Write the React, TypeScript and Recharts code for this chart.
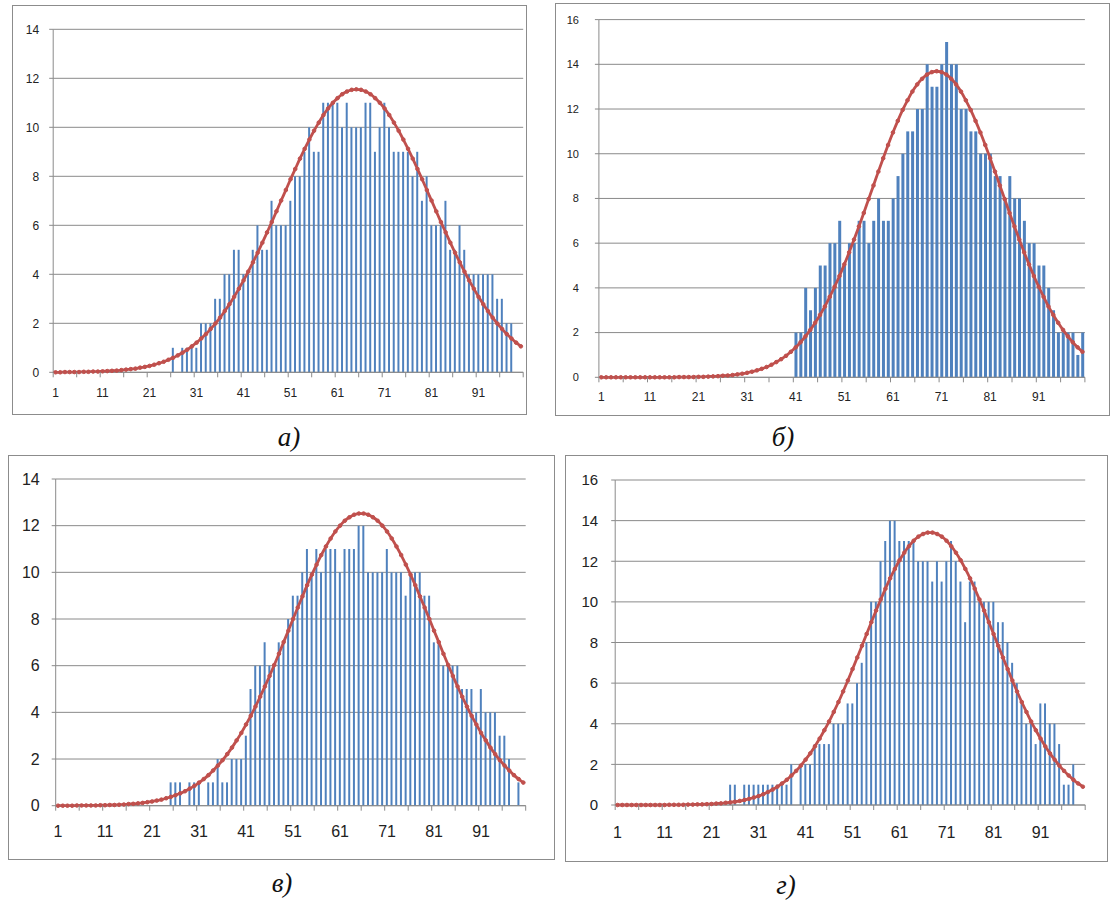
import React from 'react';
import { ComposedChart, Bar, Line, XAxis, YAxis, CartesianGrid } from 'recharts';

// categories 1..100 (bins)
const categories = Array.from({ length: 100 }, (_, i) => i + 1);

const barsA = [
  0, 0, 0, 0, 0, 0, 0, 0, 0, 0,
  0, 0, 0, 0, 0, 0, 0, 0, 0, 0,
  0, 0, 0, 0, 0, 1, 0, 1, 1, 1,
  1, 2, 2, 2, 3, 3, 4, 4, 5, 5,
  4, 4, 5, 6, 5, 5, 7, 6, 6, 6,
  7, 8, 8, 9, 10, 9, 9, 11, 11, 11,
  11, 10, 11, 10, 10, 10, 11, 11, 9, 10,
  11, 10, 9, 9, 9, 9, 8, 9, 7, 8,
  6, 6, 6, 7, 5, 5, 6, 5, 4, 4,
  4, 4, 4, 4, 3, 3, 2, 2, 0, 0,
];

const fitA = [
  0.00, 0.00, 0.01, 0.01, 0.01, 0.01, 0.02, 0.02, 0.03, 0.03,
  0.04, 0.05, 0.06, 0.07, 0.09, 0.11, 0.13, 0.15, 0.19, 0.22,
  0.26, 0.31, 0.37, 0.43, 0.51, 0.59, 0.69, 0.80, 0.92, 1.06,
  1.21, 1.38, 1.56, 1.77, 1.99, 2.23, 2.50, 2.78, 3.08, 3.41,
  3.75, 4.11, 4.49, 4.88, 5.29, 5.71, 6.13, 6.57, 7.01, 7.44,
  7.88, 8.30, 8.72, 9.12, 9.50, 9.86, 10.19, 10.50, 10.77, 11.00,
  11.19, 11.35, 11.46, 11.53, 11.55, 11.53, 11.46, 11.35, 11.19, 11.00,
  10.77, 10.50, 10.19, 9.86, 9.50, 9.12, 8.72, 8.30, 7.88, 7.44,
  7.01, 6.57, 6.13, 5.71, 5.29, 4.88, 4.49, 4.11, 3.75, 3.41,
  3.08, 2.78, 2.50, 2.23, 1.99, 1.77, 1.56, 1.38, 1.21, 1.06,
];

const barsB = [
  0, 0, 0, 0, 0, 0, 0, 0, 0, 0,
  0, 0, 0, 0, 0, 0, 0, 0, 0, 0,
  0, 0, 0, 0, 0, 0, 0, 0, 0, 0,
  0, 0, 0, 0, 0, 0, 0, 0, 0, 0,
  2, 2, 4, 3, 4, 5, 5, 6, 6, 7,
  5, 6, 6, 7, 7, 6, 7, 8, 7, 7,
  8, 9, 10, 11, 11, 12, 12, 14, 13, 13,
  14, 15, 14, 14, 12, 12, 11, 11, 10, 10,
  10, 9, 9, 8, 9, 8, 8, 7, 6, 6,
  5, 5, 4, 3, 2, 2, 2, 2, 1, 2,
];

const fitB = [
  0, 0, 0, 0, 0, 0, 0, 0, 0, 0,
  0, 0, 0, 0, 0, 0, 0.01, 0.01, 0.01, 0.01,
  0.02, 0.02, 0.03, 0.04, 0.05, 0.07, 0.08, 0.10, 0.13, 0.16,
  0.20, 0.25, 0.31, 0.38, 0.46, 0.56, 0.68, 0.81, 0.96, 1.14,
  1.34, 1.57, 1.83, 2.12, 2.44, 2.79, 3.17, 3.60, 4.05, 4.53,
  5.05, 5.59, 6.16, 6.75, 7.35, 7.97, 8.58, 9.20, 9.80, 10.39,
  10.95, 11.47, 11.96, 12.39, 12.78, 13.10, 13.35, 13.54, 13.65, 13.69,
  13.65, 13.54, 13.35, 13.10, 12.78, 12.39, 11.96, 11.47, 10.95, 10.39,
  9.80, 9.20, 8.58, 7.97, 7.35, 6.75, 6.16, 5.59, 5.05, 4.53,
  4.05, 3.60, 3.17, 2.79, 2.44, 2.12, 1.83, 1.57, 1.34, 1.14,
];

const barsC = [
  0, 0, 0, 0, 0, 0, 0, 0, 0, 0,
  0, 0, 0, 0, 0, 0, 0, 0, 0, 0,
  0, 0, 0, 0, 1, 1, 1, 0, 1, 1,
  1, 0, 1, 1, 2, 1, 1, 2, 2, 2,
  3, 5, 6, 6, 7, 6, 6, 7, 7, 8,
  9, 9, 10, 11, 10, 11, 10, 11, 11, 11,
  10, 11, 11, 11, 12, 12, 10, 10, 10, 10,
  11, 10, 10, 10, 9, 10, 10, 10, 9, 9,
  7, 7, 6, 6, 6, 6, 5, 5, 5, 4,
  5, 4, 4, 4, 3, 3, 2, 0, 1, 0,
];

const fitC = [
  0.00, 0.00, 0.00, 0.00, 0.01, 0.01, 0.01, 0.01, 0.01, 0.02,
  0.02, 0.03, 0.03, 0.04, 0.05, 0.07, 0.08, 0.10, 0.12, 0.15,
  0.18, 0.22, 0.26, 0.32, 0.38, 0.45, 0.53, 0.62, 0.73, 0.85,
  0.99, 1.14, 1.31, 1.51, 1.72, 1.95, 2.21, 2.49, 2.80, 3.12,
  3.48, 3.85, 4.25, 4.67, 5.11, 5.56, 6.03, 6.51, 7.01, 7.50,
  8.00, 8.49, 8.97, 9.45, 9.90, 10.33, 10.74, 11.11, 11.45, 11.75,
  12.00, 12.21, 12.36, 12.47, 12.52, 12.52, 12.47, 12.36, 12.21, 12.00,
  11.75, 11.45, 11.11, 10.74, 10.33, 9.90, 9.45, 8.97, 8.49, 8.00,
  7.50, 7.01, 6.51, 6.03, 5.56, 5.11, 4.67, 4.25, 3.85, 3.48,
  3.12, 2.80, 2.49, 2.21, 1.95, 1.72, 1.51, 1.31, 1.14, 0.99,
];

const barsD = [
  0, 0, 0, 0, 0, 0, 0, 0, 0, 0,
  0, 0, 0, 0, 0, 0, 0, 0, 0, 0,
  0, 0, 0, 0, 1, 1, 0, 1, 1, 1,
  1, 1, 1, 1, 1, 1, 1, 2, 0, 2,
  2, 2, 3, 3, 3, 3, 4, 4, 4, 5,
  5, 6, 7, 8, 10, 10, 12, 13, 14, 14,
  13, 13, 13, 13, 12, 12, 12, 11, 12, 11,
  12, 13, 12, 11, 9, 11, 11, 10, 10, 10,
  10, 9, 9, 8, 7, 6, 5, 4, 4, 3,
  5, 5, 4, 4, 3, 1, 1, 2, 0, 0,
];

const fitD = [
  0, 0, 0, 0, 0, 0, 0, 0, 0, 0,
  0.00, 0.01, 0.01, 0.01, 0.01, 0.02, 0.02, 0.03, 0.03, 0.04,
  0.05, 0.07, 0.08, 0.11, 0.13, 0.16, 0.20, 0.25, 0.30, 0.37,
  0.44, 0.53, 0.64, 0.76, 0.90, 1.06, 1.24, 1.45, 1.68, 1.94,
  2.23, 2.54, 2.89, 3.27, 3.68, 4.11, 4.58, 5.07, 5.59, 6.13,
  6.69, 7.26, 7.84, 8.42, 9.00, 9.57, 10.12, 10.65, 11.16, 11.62,
  12.05, 12.42, 12.74, 13.01, 13.21, 13.34, 13.41, 13.41, 13.34, 13.21,
  13.01, 12.74, 12.42, 12.05, 11.62, 11.16, 10.65, 10.12, 9.57, 9.00,
  8.42, 7.84, 7.26, 6.69, 6.13, 5.59, 5.07, 4.58, 4.11, 3.68,
  3.27, 2.89, 2.54, 2.23, 1.94, 1.68, 1.45, 1.24, 1.06, 0.90,
];

const ticks14 = [0, 2, 4, 6, 8, 10, 12, 14];
const ticks16 = [0, 2, 4, 6, 8, 10, 12, 14, 16];

const BAR_BLUE = '#4F81BD';
const FIT_RED = '#C0504D';
const GRID = '#8a8a8a';
const LABEL_FONT = '"Liberation Sans", Arial, sans-serif';

type Rect = { left: number; top: number; right: number; bottom: number };

interface PanelProps {
  box: Rect;
  plot: Rect;
  bars: number[];
  fit: number[];
  yMax: number;
  yTicks: number[];
  yFont: number;
  yGap: number;
  xFont: number;
  xLabelDy: number;
  caption: string;
  captionX: number;
  captionY: number;
}

function Panel(p: PanelProps) {
  const data = categories.map((c, i) => ({ x: c, count: p.bars[i], fit: p.fit[i] }));
  const cx = p.box.left + 1;
  const cy = p.box.top + 1;
  const cw = p.box.right - p.box.left - 2;
  const ch = p.box.bottom - p.box.top - 2;
  const yw = p.plot.left - cx;
  const mr = cx + cw - p.plot.right;
  const mt = p.plot.top - cy;
  const xh = cy + ch - p.plot.bottom;
  const step = (p.plot.right - p.plot.left) / categories.length;

  // tick marks every 5 bins (on the bin borders), labels every 10 bins
  const renderTick = (props: any) => {
    const { x, y, payload, index } = props;
    const i = typeof index === 'number' ? index : payload.index;
    return (
      <g>
        {i === 0 && <line x1={x - step / 2} x2={x - step / 2} y1={y} y2={y + 5} stroke={GRID} />}
        {(i + 1) % 5 === 0 && <line x1={x + step / 2} x2={x + step / 2} y1={y} y2={y + 5} stroke={GRID} />}
        {i % 10 === 0 && (
          <text x={x} y={y + p.xLabelDy} textAnchor="middle" fontSize={p.xFont} fill="#222" fontFamily={LABEL_FONT}>
            {payload.value}
          </text>
        )}
      </g>
    );
  };

  return (
    <>
      <div
        style={{
          position: 'absolute',
          left: p.box.left,
          top: p.box.top,
          width: p.box.right - p.box.left - 2,
          height: p.box.bottom - p.box.top - 2,
          border: '1px solid #8c8c8c',
        }}
      />
      <div style={{ position: 'absolute', left: cx, top: cy }}>
        <ComposedChart width={cw} height={ch} data={data} margin={{ top: mt, right: mr, left: 0, bottom: 0 }} barCategoryGap="24%">
          <CartesianGrid vertical={false} stroke={GRID} />
          <XAxis
            dataKey="x"
            height={xh}
            interval={0}
            tickLine={false}
            tickSize={0}
            tickMargin={0}
            axisLine={{ stroke: GRID }}
            tick={renderTick}
          />
          <YAxis
            width={yw}
            domain={[0, p.yMax]}
            ticks={p.yTicks}
            interval={0}
            tickSize={4}
            tickMargin={p.yGap}
            tickLine={{ stroke: GRID }}
            axisLine={{ stroke: GRID }}
            tick={{ fontSize: p.yFont, fill: '#222', fontFamily: LABEL_FONT }}
          />
          <Bar dataKey="count" fill={BAR_BLUE} isAnimationActive={false} />
          <Line
            dataKey="fit"
            type="monotone"
            stroke={FIT_RED}
            strokeWidth={2.8}
            dot={{ r: 1.8, fill: FIT_RED, stroke: FIT_RED, strokeWidth: 1 }}
            isAnimationActive={false}
          />
        </ComposedChart>
      </div>
      <div
        style={{
          position: 'absolute',
          left: p.captionX - 40,
          top: p.captionY - 18,
          width: 80,
          textAlign: 'center',
          fontFamily: '"Liberation Serif", "Times New Roman", serif',
          fontStyle: 'italic',
          fontSize: 27,
          lineHeight: '36px',
          color: '#111',
        }}
      >
        {p.caption}
      </div>
    </>
  );
}

export default function App() {
  return (
    <div style={{ position: 'absolute', left: 0, top: 0, width: 1111, height: 901, background: '#fff' }}>
      <Panel
        box={{ left: 12, top: 5, right: 527, bottom: 415 }}
        plot={{ left: 53.2, top: 29.3, right: 523.2, bottom: 372.3 }}
        bars={barsA}
        fit={fitA}
        yMax={14}
        yTicks={ticks14}
        yFont={12}
        yGap={10}
        xFont={12}
        xLabelDy={25}
        caption="а)"
        captionX={289}
        captionY={437}
      />
      <Panel
        box={{ left: 555, top: 3, right: 1110, bottom: 416 }}
        plot={{ left: 598.9, top: 19.6, right: 1084.9, bottom: 377.3 }}
        bars={barsB}
        fit={fitB}
        yMax={16}
        yTicks={ticks16}
        yFont={11}
        yGap={16}
        xFont={12}
        xLabelDy={24}
        caption="б)"
        captionX={783}
        captionY={437}
      />
      <Panel
        box={{ left: 8, top: 455, right: 555, bottom: 860 }}
        plot={{ left: 55.7, top: 479, right: 525.7, bottom: 805.7 }}
        bars={barsC}
        fit={fitC}
        yMax={14}
        yTicks={ticks14}
        yFont={16}
        yGap={12}
        xFont={16}
        xLabelDy={31}
        caption="в)"
        captionX={282}
        captionY={883}
      />
      <Panel
        box={{ left: 565, top: 455, right: 1108, bottom: 862 }}
        plot={{ left: 615.2, top: 480, right: 1085.2, bottom: 805 }}
        bars={barsD}
        fit={fitD}
        yMax={16}
        yTicks={ticks16}
        yFont={15}
        yGap={13}
        xFont={16}
        xLabelDy={33}
        caption="г)"
        captionX={786}
        captionY={885}
      />
    </div>
  );
}
